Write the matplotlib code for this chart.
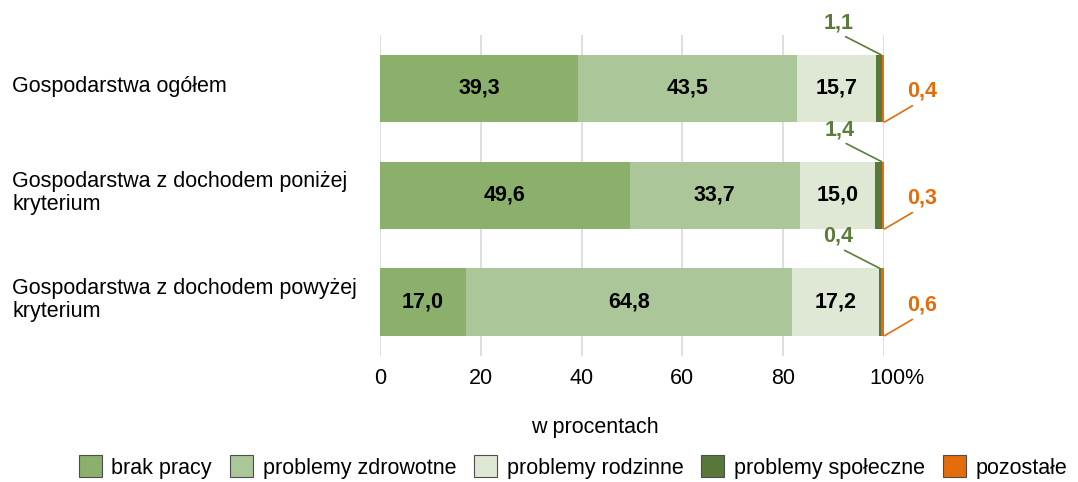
import matplotlib
matplotlib.use("Agg")
import matplotlib.pyplot as plt
from matplotlib.patches import Patch
from matplotlib.transforms import ScaledTranslation, blended_transform_factory
import numpy as np

plt.rcParams['font.family'] = ['Liberation Sans', 'DejaVu Sans']

categories = ["Gospodarstwa ogółem",
              "Gospodarstwa z dochodem poniżej\nkryterium",
              "Gospodarstwa z dochodem powyżej\nkryterium"]
series_names = ["brak pracy", "problemy zdrowotne", "problemy rodzinne",
                "problemy społeczne", "pozostałe"]
brak_pracy = [39.3, 49.6, 17.0]
problemy_zdrowotne = [43.5, 33.7, 64.8]
problemy_rodzinne = [15.7, 15.0, 17.2]
problemy_spoleczne = [1.1, 1.4, 0.4]
pozostale = [0.4, 0.3, 0.6]
xticks = [0, 20, 40, 60, 80, 100]
xtick_labels = ["0", "20", "40", "60", "80", "100%"]

colors = ["#8BB06B", "#ABC799", "#DEE8D4", "#58773A", "#E46C0A"]
green_lbl = "#5B7D3A"
orange_lbl = "#E46C0A"
FS = 15.5

fig = plt.figure(figsize=(10.78, 4.82), dpi=100)
ax = fig.add_axes([380/1078, 1-355.5/482, 504/1078, 320.5/482])

data = [brak_pracy, problemy_zdrowotne, problemy_rodzinne, problemy_spoleczne, pozostale]
y = np.arange(len(categories))
h = 0.63
left = np.zeros(len(categories))
for k, (vals, c) in enumerate(zip(data, colors)):
    vals = np.array(vals)
    ax.barh(y, vals, left=left, height=h, color=c, edgecolor='none', zorder=3)
    if k < 3:
        for i in range(len(y)):
            ax.text(left[i] + vals[i]/2, y[i], f"{vals[i]:.1f}".replace('.', ','),
                    ha='center', va='center', fontsize=FS, fontweight='bold',
                    color='black', zorder=4)
    left = left + vals

# leader-line labels for small segments
cum_s = np.array(brak_pracy) + np.array(problemy_zdrowotne) + np.array(problemy_rodzinne) + np.array(problemy_spoleczne)
for i in range(len(y)):
    ax.annotate(f"{problemy_spoleczne[i]:.1f}".replace('.', ','),
                xy=(cum_s[i] - 0.2, y[i] - h/2), xycoords='data',
                xytext=(-42, 32), textcoords='offset pixels',
                ha='center', va='center', fontsize=FS, fontweight='bold', color=green_lbl,
                arrowprops=dict(arrowstyle='-', color=green_lbl, lw=1.2,
                                shrinkA=1, shrinkB=0, relpos=(0.5, 0.0)),
                annotation_clip=False, zorder=5)
    ax.annotate(f"{pozostale[i]:.1f}".replace('.', ','),
                xy=(100.1, y[i] + h/2), xycoords='data',
                xytext=(38, 31), textcoords='offset pixels',
                ha='center', va='center', fontsize=FS, fontweight='bold', color=orange_lbl,
                arrowprops=dict(arrowstyle='-', color=orange_lbl, lw=1.2,
                                shrinkA=2, shrinkB=0, relpos=(0.4, 0.0)),
                annotation_clip=False, zorder=5)

ax.set_xlim(0, 100)
ax.set_ylim(2.5, -0.5)
ax.set_xticks(xticks)
ax.set_xticklabels(xtick_labels, fontsize=FS)
ax.tick_params(axis='x', length=0, pad=9)
ax.set_yticks([])
for s in ax.spines.values():
    s.set_visible(False)
ax.grid(axis='x', color='#D9D9D9', lw=1.2, zorder=0)
ax.set_axisbelow(True)

lbl = ax.get_xticklabels()[-1]
lbl.set_transform(lbl.get_transform() + ScaledTranslation(13/100, 0, fig.dpi_scale_trans))

# category labels
tr = blended_transform_factory(fig.transFigure, ax.transData)
for i, cat in enumerate(categories):
    ax.text(12/1078, y[i] - 0.02, cat, transform=tr, ha='left', va='center',
            fontsize=FS, linespacing=1.12)

fig.text(595/1078, 1-428/482, "w procentach", ha='center', va='center', fontsize=FS)

handles = [Patch(facecolor=c, edgecolor='#4D4D4D', lw=0.8) for c in colors]
fig.legend(handles, series_names, loc='center', bbox_to_anchor=(573/1078, 1-467/482),
           ncol=5, frameon=False, fontsize=FS, handlelength=1.07, handleheight=1.2,
           handletextpad=0.45, columnspacing=0.83, borderaxespad=0, borderpad=0)

fig.savefig("out.png", dpi=100)
